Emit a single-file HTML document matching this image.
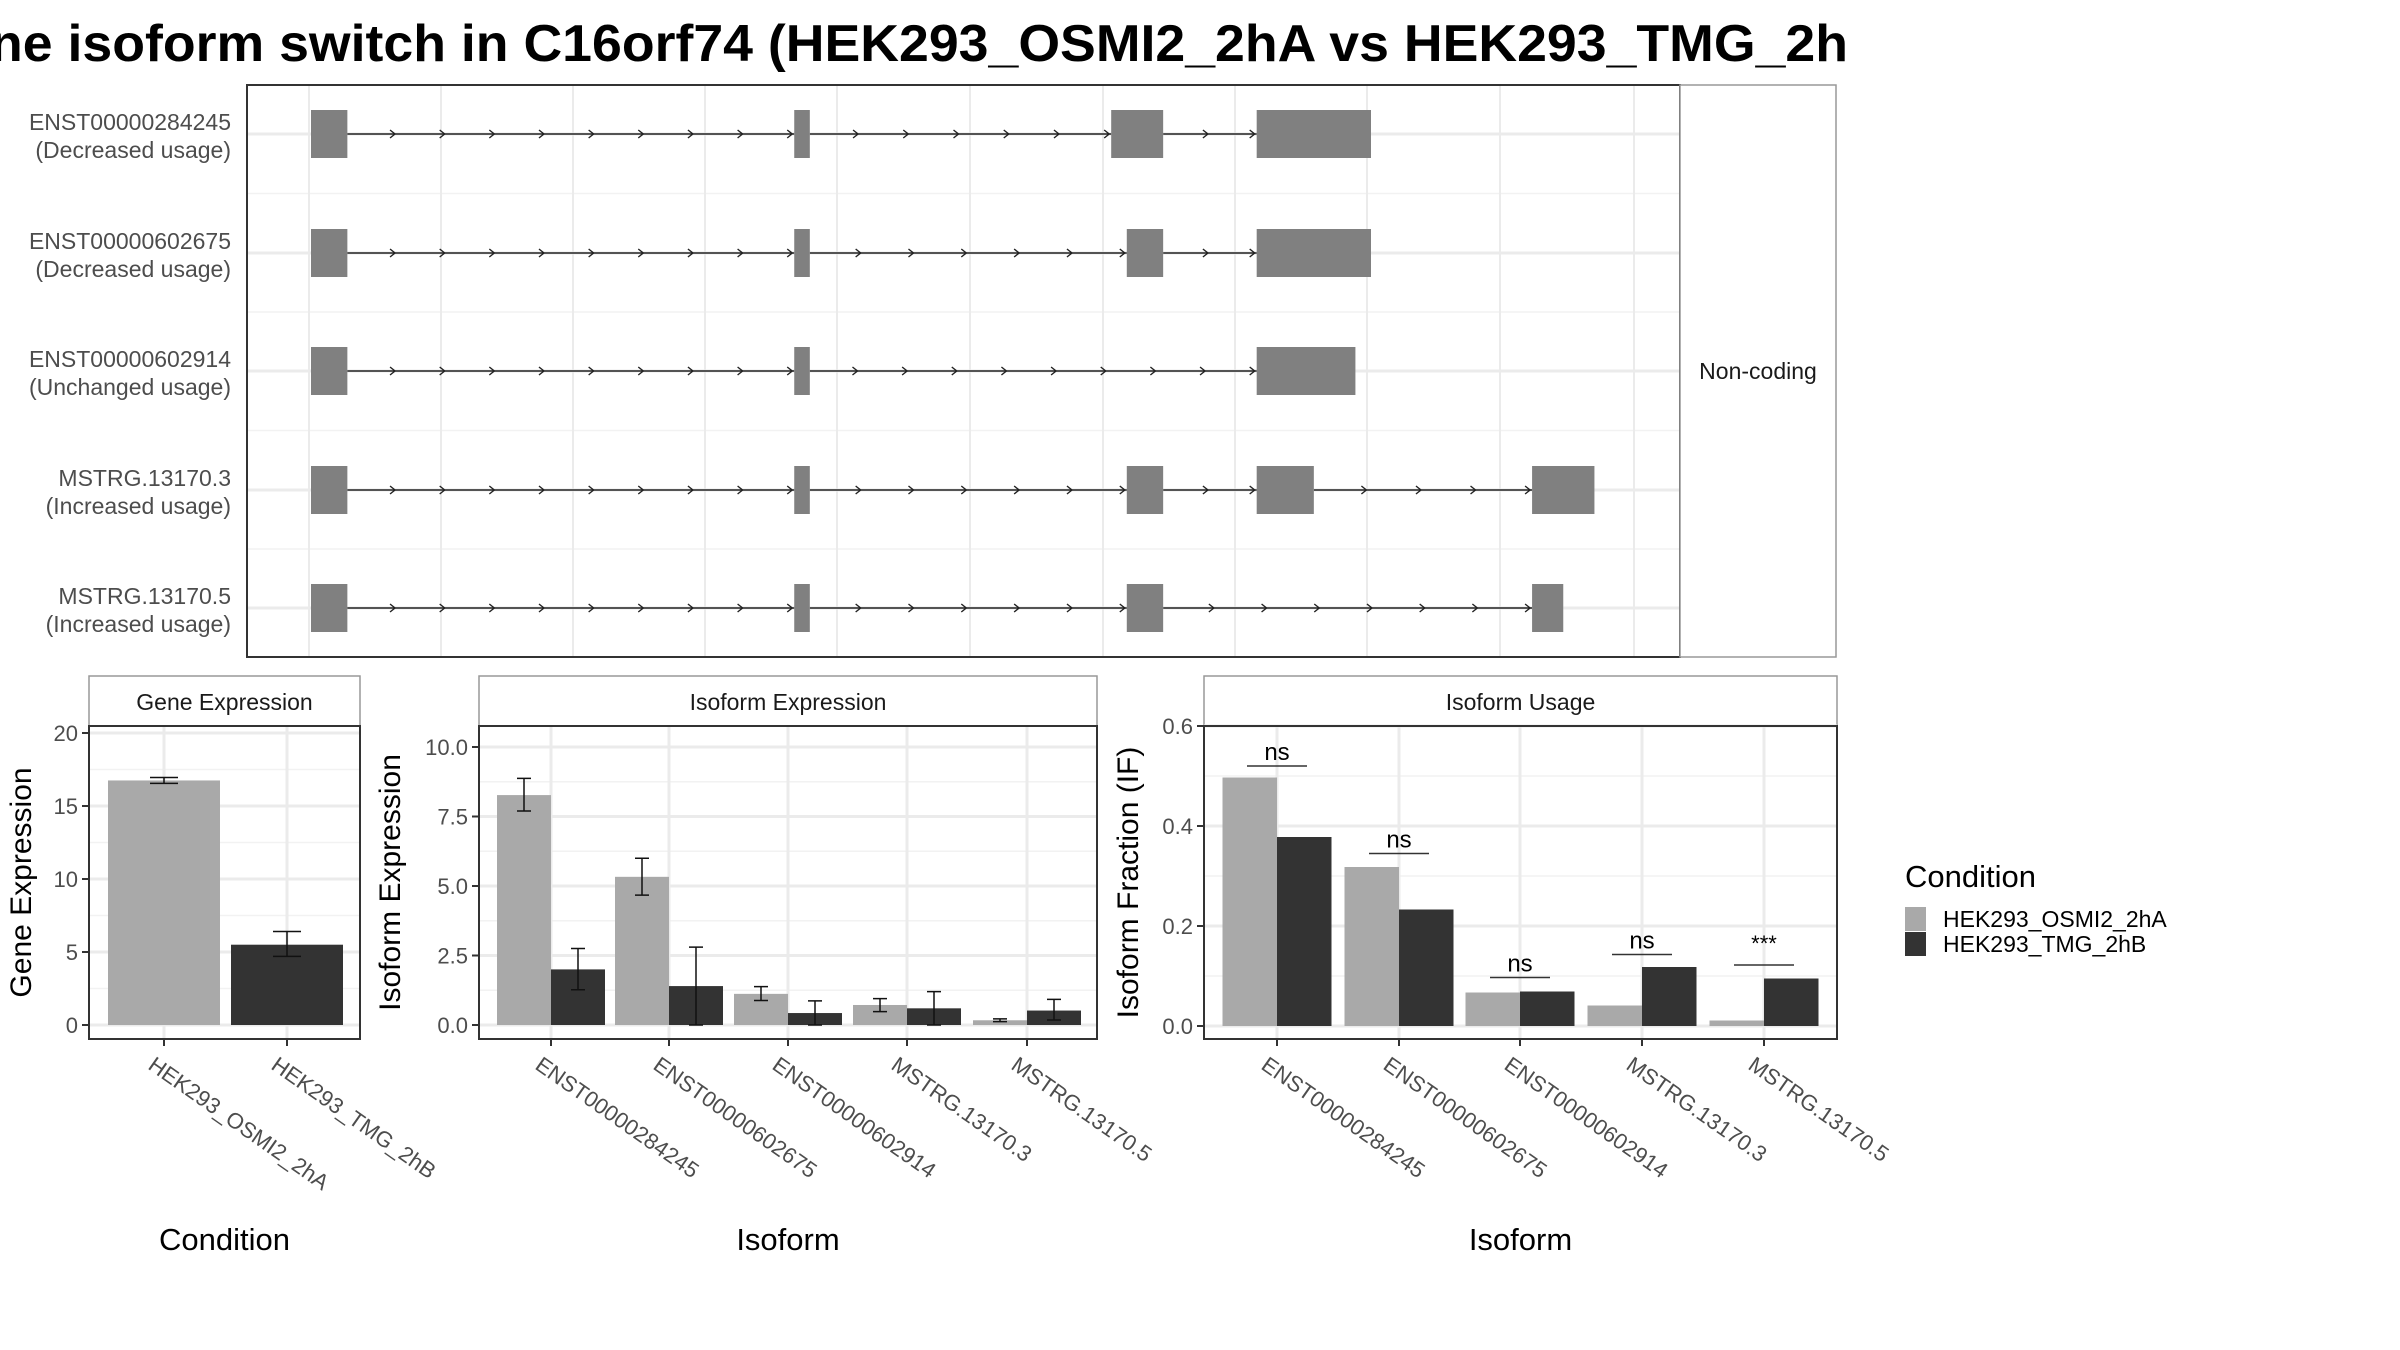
<!DOCTYPE html>
<html><head><meta charset="utf-8"><style>
html,body{margin:0;padding:0;background:#fff;}
svg{display:block;font-family:"Liberation Sans",Arial,sans-serif;}
</style></head><body>
<svg id="root" width="2400" height="1350" viewBox="0 0 2400 1350" xmlns="http://www.w3.org/2000/svg">
<defs><clipPath id="tclip"><rect x="0" y="0" width="1848" height="90"/></clipPath></defs>
<g clip-path="url(#tclip)">
<text x="1848" y="61" text-anchor="end" font-size="52" font-weight="bold" fill="#000" textLength="1858" lengthAdjust="spacingAndGlyphs">ne isoform switch in C16orf74 (HEK293_OSMI2_2hA vs HEK293_TMG_2h</text>
</g>
<g id="top"></g>
<g id="gene"></g>
<g id="iso"></g>
<g id="usage"></g>
<g id="legend"></g>
</svg>
<script>
// ---- data ----
const transcripts = ["ENST00000284245","ENST00000602675","ENST00000602914","MSTRG.13170.3","MSTRG.13170.5"];
const usageLabels = ["(Decreased usage)","(Decreased usage)","(Unchanged usage)","(Increased usage)","(Increased usage)"];
// exon genomic coordinates (arbitrary genome units, 0..100)
const exonStarts = [[0,46.5,77,91],[0,46.5,78.5,91],[0,46.5,91],[0,46.5,78.5,91,117.5],[0,46.5,78.5,117.5]];
const exonEnds   = [[3.5,48,82,102],[3.5,48,82,102],[3.5,48,100.5],[3.5,48,82,96.5,123.5],[3.5,48,82,120.5]];
const conditions = ["HEK293_OSMI2_2hA","HEK293_TMG_2hB"];
const geneExpr = [16.75, 5.5];
const geneErrLo = [16.55, 4.7];
const geneErrHi = [16.95, 6.4];
const isoExprA = [8.27, 5.33, 1.12, 0.72, 0.17];
const isoExprB = [2.0, 1.4, 0.43, 0.6, 0.52];
const isoErrLoA = [7.7, 4.67, 0.88, 0.48, 0.12];
const isoErrHiA = [8.87, 6.0, 1.38, 0.95, 0.22];
const isoErrLoB = [1.27, 0.0, 0.0, 0.0, 0.18];
const isoErrHiB = [2.75, 2.8, 0.87, 1.2, 0.92];
const ifA = [0.497, 0.318, 0.067, 0.041, 0.011];
const ifB = [0.378, 0.233, 0.069, 0.118, 0.095];
const sigLabels = ["ns","ns","ns","ns","***"];
const sigLevels = [0.52, 0.345, 0.097, 0.143, 0.122];
const geneTicks = [0,5,10,15,20];
const isoTicks = [0,2.5,5,7.5,10];
const isoTickLabels = ["0.0","2.5","5.0","7.5","10.0"];
const ifTicks = [0,0.2,0.4,0.6];
const ifTickLabels = ["0.0","0.2","0.4","0.6"];

const NS="http://www.w3.org/2000/svg";
const COL_A="#a9a9a9", COL_B="#333333", GRID="#ebebeb";
function mk(tag, attrs, parent){const e=document.createElementNS(NS,tag);for(const k in attrs)e.setAttribute(k,attrs[k]);parent.appendChild(e);return e;}

// ---- top panel ----
(function(){
  const g=document.getElementById('top');
  const L=247,R=1680,T=85,B=657;
  const gx=v=>311+v*(1371-311)/102;
  const rowY=[134,253,371,490,608];
  // minor grid
  [193.5,312,430.5,549].forEach(y=>{const l=mk('line',{x1:L,x2:R,y1:y,y2:y,stroke:'#f2f2f2','stroke-width':1.5},g);
    
    });
  [309,441,573,705,837,970,1103,1235,1367,1500,1634].forEach(x=>{const l=mk('line',{x1:x,x2:x,y1:T,y2:B,stroke:GRID,'stroke-width':2},g);
    
    });
  rowY.forEach(y=>{const l=mk('line',{x1:L,x2:R,y1:y,y2:y,stroke:GRID,'stroke-width':3},g);
    
    });
  transcripts.forEach((t,i)=>{
    const y=rowY[i];
    const st=exonStarts[i], en=exonEnds[i];
    const tg=mk('g',{},g);
    
    
    for(let k=0;k<st.length-1;k++){
      const x1=gx(en[k]), x2=gx(st[k+1]);
      const ln=mk('line',{x1:x1,x2:x2,y1:y,y2:y,stroke:'#222','stroke-width':1.6},tg);
      
      
      const n=Math.max(1,Math.round((x2-x1)/50));
      const step=(x2-x1)/n;
      for(let a=1;a<=n;a++){
        const ax=x1+step*a-2;
        const ar=mk('path',{d:`M${ax-5},${y-4} L${ax},${y} L${ax-5},${y+4}`,fill:'none',stroke:'#222','stroke-width':1.4},tg);
        
        
      }
    }
    st.forEach((s,k)=>{
      const r=mk('rect',{x:gx(s),y:y-24,width:gx(en[k])-gx(s),height:48,fill:'#808080'},tg);
      
      
    });
    const lab=mk('text',{x:231,y:y-4,'text-anchor':'end','font-size':23,fill:'#4d4d4d'},g);
    
    
    lab.textContent=t;
    const lab2=mk('text',{x:231,y:y+24,'text-anchor':'end','font-size':23,fill:'#4d4d4d'},g);
    
    
    lab2.textContent=usageLabels[i];
  });
  const bd=mk('rect',{x:L,y:T,width:R-L,height:B-T,fill:'none',stroke:'#333','stroke-width':2},g);
  
  
  const sb=mk('rect',{x:R,y:T,width:1836-R,height:B-T,fill:'#fff',stroke:'#999','stroke-width':1.5},g);
  
  
  const st=mk('text',{x:1758,y:379,'text-anchor':'middle','font-size':23,fill:'#1a1a1a'},g);
  
  
  st.textContent='Non-coding';
})();

// ---- generic bar panel ----
function panel(g, o){
  const {L,R,T,B,y0,yTop,vTop,ticks,tickLabels,strip,ytitle,ytitleX,xtitle,cats,centers,tickX}=o;
  const sy=v=>y0-(v/vTop)*(y0-yTop);
  // strip
  const sr=mk('rect',{x:L,y:676,width:R-L,height:T-676,fill:'#fff',stroke:'#999','stroke-width':1.5},g);
  
  
  const stx=mk('text',{x:(L+R)/2,y:710,'text-anchor':'middle','font-size':23,fill:'#1a1a1a'},g);
  
  
  stx.textContent=strip;
  // minor grid
  for(let i=0;i<ticks.length-1;i++){const v=(ticks[i]+ticks[i+1])/2;const y=sy(v);
    const l=mk('line',{x1:L,x2:R,y1:y,y2:y,stroke:'#f2f2f2','stroke-width':1.5},g);
    
    }
  {const v=ticks[ticks.length-1]+(ticks[1]-ticks[0])/2;const y=sy(v);if(y>T){const l=mk('line',{x1:L,x2:R,y1:y,y2:y,stroke:'#f2f2f2','stroke-width':1.5},g);
    
    }}
  ticks.forEach((v,i)=>{const y=sy(v);
    const l=mk('line',{x1:L,x2:R,y1:y,y2:y,stroke:GRID,'stroke-width':3},g);
    
    
    const tk=mk('line',{x1:L-7,x2:L,y1:y,y2:y,stroke:'#333','stroke-width':2},g);
    
    
    const t=mk('text',{x:L-11,y:y+8,'text-anchor':'end','font-size':22,fill:'#4d4d4d'},g);
    
    
    t.textContent=tickLabels[i];});
  centers.forEach(x=>{const l=mk('line',{x1:x,x2:x,y1:T,y2:B,stroke:GRID,'stroke-width':3},g);
    
    });
  o.draw(sy);
  const bd=mk('rect',{x:L,y:T,width:R-L,height:B-T,fill:'none',stroke:'#333','stroke-width':2},g);
  
  
  cats.forEach((c,i)=>{const x=centers[i];
    const tk=mk('line',{x1:x,x2:x,y1:B,y2:B+7,stroke:'#333','stroke-width':2},g);
    
    
    const t=mk('text',{x:0,y:0,'font-size':22,fill:'#4d4d4d','dominant-baseline':'hanging',transform:`translate(${x-8},${B+16}) rotate(35)`},g);
    
    
    t.textContent=c;});
  const yt=mk('text',{x:0,y:0,'text-anchor':'middle','font-size':30,fill:'#000',transform:`translate(${ytitleX},${(T+B)/2}) rotate(-90)`},g);
  
  
  yt.textContent=ytitle;
  const xt=mk('text',{x:(L+R)/2,y:1250,'text-anchor':'middle','font-size':31,fill:'#000'},g);
  
  
  xt.textContent=xtitle;
}
function errbar(g,x,ylo,yhi,w){
  const p=mk('path',{d:`M${x-w},${ylo}H${x+w}M${x},${ylo}V${yhi}M${x-w},${yhi}H${x+w}`,stroke:'#111','stroke-width':1.5,fill:'none'},g);
  
  
}

// Gene expression
(function(){
  const g=document.getElementById('gene');
  const centers=[164,287];
  panel(g,{L:89,R:360,T:726,B:1039,y0:1025,yTop:733,vTop:20,ticks:geneTicks,tickLabels:geneTicks.map(String),
    strip:'Gene Expression',ytitle:'Gene Expression',ytitleX:31,xtitle:'Condition',cats:conditions,centers:centers,
    draw:(sy)=>{
      geneExpr.forEach((v,i)=>{
        const r=mk('rect',{x:centers[i]-56,y:sy(v),width:112,height:sy(0)-sy(v),fill:i?COL_B:COL_A},g);
        
        
        errbar(g,centers[i],sy(geneErrLo[i]),sy(geneErrHi[i]),14);
      });
    }});
})();

// Isoform expression
(function(){
  const g=document.getElementById('iso');
  const centers=[551,669,788,907,1027];
  panel(g,{L:479,R:1097,T:726,B:1039,y0:1025,yTop:747,vTop:10,ticks:isoTicks,tickLabels:isoTickLabels,
    strip:'Isoform Expression',ytitle:'Isoform Expression',ytitleX:400,xtitle:'Isoform',cats:transcripts,centers:centers,
    draw:(sy)=>{
      transcripts.forEach((t,i)=>{
        const a=mk('rect',{x:centers[i]-54,y:sy(isoExprA[i]),width:54,height:sy(0)-sy(isoExprA[i]),fill:COL_A},g);
        
        
        const b=mk('rect',{x:centers[i],y:sy(isoExprB[i]),width:54,height:sy(0)-sy(isoExprB[i]),fill:COL_B},g);
        
        
        errbar(g,centers[i]-27,sy(isoErrLoA[i]),sy(isoErrHiA[i]),7);
        errbar(g,centers[i]+27,sy(isoErrLoB[i]),sy(isoErrHiB[i]),7);
      });
    }});
})();

// Isoform usage
(function(){
  const g=document.getElementById('usage');
  const centers=[1277,1399,1520,1642,1764];
  panel(g,{L:1204,R:1837,T:726,B:1039,y0:1026,yTop:726,vTop:0.6,ticks:ifTicks,tickLabels:ifTickLabels,
    strip:'Isoform Usage',ytitle:'Isoform Fraction (IF)',ytitleX:1138,xtitle:'Isoform',cats:transcripts,centers:centers,
    draw:(sy)=>{
      transcripts.forEach((t,i)=>{
        const a=mk('rect',{x:centers[i]-54.5,y:sy(ifA[i]),width:54.5,height:sy(0)-sy(ifA[i]),fill:COL_A},g);
        
        
        const b=mk('rect',{x:centers[i],y:sy(ifB[i]),width:54.5,height:sy(0)-sy(ifB[i]),fill:COL_B},g);
        
        
        const y=sy(sigLevels[i]);
        const ln=mk('line',{x1:centers[i]-30,x2:centers[i]+30,y1:y,y2:y,stroke:'#333','stroke-width':1.5},g);
        
        
        const tx=mk('text',{x:centers[i],y:y-(sigLabels[i]==='***'?14:6),'text-anchor':'middle','font-size':sigLabels[i]==='***'?22:24,fill:'#000'},g);
        
        
        tx.textContent=sigLabels[i];
      });
    }});
})();

// Legend
(function(){
  const g=document.getElementById('legend');
  const t=mk('text',{x:1905,y:887,'font-size':31,fill:'#000'},g);
  
  
  t.textContent='Condition';
  conditions.forEach((c,i)=>{
    const y=907+i*25;
    const k=mk('rect',{x:1905,y:y,width:21,height:24,fill:i?COL_B:COL_A},g);
    
    
    const l=mk('text',{x:1943,y:y+20,'font-size':23,fill:'#000'},g);
    
    
    l.textContent=c;
  });
})();
</script>
</body></html>
